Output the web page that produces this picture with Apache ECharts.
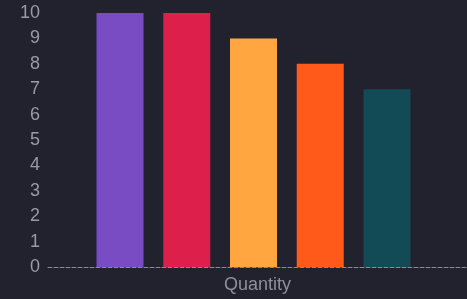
<!DOCTYPE html>
<html>
<head>
<meta charset="utf-8">
<script src="https://cdn.jsdelivr.net/npm/echarts@6/dist/echarts.min.js"></script>
<style>
    html, body {margin: 0; padding: 0; background: #22222f;}
    #main {width: 467px; height: 299px;}
</style>
</head>
<body>
<div id="main"></div>
<script>
// 数据
let categories = ['Quantity'];
let seriesNames = ['A', 'B', 'C', 'D', 'E'];
let seriesValues = [10, 10, 9, 8, 7];
let seriesColors = ['#7a4cc4', '#dc1f4b', '#ffa641', '#ff5a19', '#124b55'];

let myChart = echarts.init(document.getElementById('main'));
let series = [];
for (let i = 0; i < seriesValues.length; i++) {
    series.push({
        name: seriesNames[i],
        type: 'bar',
        xAxisIndex: 1,
        yAxisIndex: 1,
        barWidth: 47,
        barGap: '42%',
        itemStyle: {color: seriesColors[i]},
        data: [seriesValues[i]]
    });
}
let option = {
    backgroundColor: '#22222f',
    animation: false,
    grid: [
        {left: 48, right: 0, top: 13, bottom: 32}, // 坐标轴
        {left: 48, right: 8, top: 13, bottom: 32}  // 柱子
    ],
    xAxis: [
        {
            type: 'category',
            gridIndex: 0,
            data: categories,
            axisLine: {lineStyle: {color: '#8a8a96', type: 'dashed', width: 1}},
            axisTick: {show: false},
            axisLabel: {color: '#8f8f9b', fontSize: 18, fontFamily: 'Liberation Sans', margin: 9}
        },
        {
            type: 'category',
            gridIndex: 1,
            data: categories,
            axisLine: {show: false},
            axisTick: {show: false},
            axisLabel: {show: false}
        }
    ],
    yAxis: [
        {
            type: 'value',
            gridIndex: 0,
            min: 0,
            max: 10,
            interval: 1,
            splitLine: {show: false},
            axisLine: {show: false},
            axisTick: {show: false},
            axisLabel: {color: '#9a9aa6', fontSize: 18, fontFamily: 'Liberation Sans', margin: 8}
        },
        {
            type: 'value',
            gridIndex: 1,
            min: 0,
            max: 10,
            interval: 1,
            show: false
        }
    ],
    series: series
};
myChart.setOption(option);
</script>
</body>
</html>
